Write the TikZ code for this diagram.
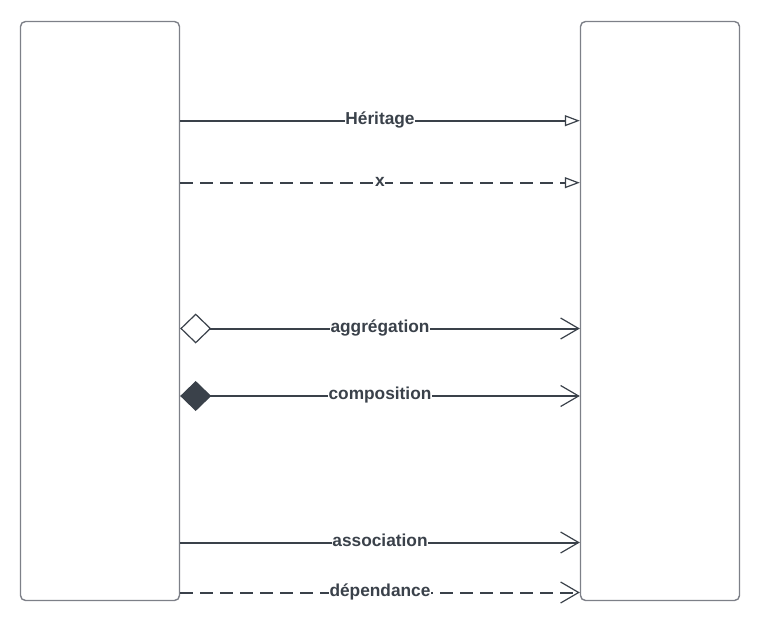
\documentclass[tikz,border=0pt]{standalone}
\usepackage{fontspec}
\setmainfont{Liberation Sans}
\usetikzlibrary{arrows.meta}
\definecolor{ink}{HTML}{3A414A}
\definecolor{frame}{HTML}{7D8088}
\tikzset{
  classbox/.style={draw=frame, line width=1.4pt, rounded corners=5pt, fill=white,
    minimum width=159pt, minimum height=579pt, inner sep=0pt},
  rel/.style={draw=ink, line width=2pt},
  dashrel/.style={rel, dash pattern=on 13pt off 7pt},
  lbl/.style={fill=white, text=ink, inner sep=0.3pt, anchor=base,
    font=\bfseries\fontsize{17.3}{19}\selectfont},
  inherit/.style={-{Triangle[length=15pt,width=11pt,fill=white,line width=1.2pt]}},
  navig/.style={-{Straight Barb[length=18pt,width=21pt,line width=1.2pt]}},
  aggr/.style={{Diamond[length=31pt,width=30pt,fill=white,line width=1.2pt]}-{Straight Barb[length=18pt,width=21pt,line width=1.2pt]}},
  compo/.style={{Diamond[length=31pt,width=30pt,fill=ink,line width=1.2pt]}-{Straight Barb[length=18pt,width=21pt,line width=1.2pt]}},
}
\begin{document}
\begin{tikzpicture}[x=1pt, y=-1pt]
\useasboundingbox (0,0) rectangle (760,620);

% the two classes
\node[classbox] (L) at (100,311) {};
\node[classbox] (R) at (660,311) {};

% heights of the relation rows
\coordinate (r1) at (380,120.7);
\coordinate (r2) at (380,182.7);
\coordinate (r3) at (380,328.5);
\coordinate (r4) at (380,396);
\coordinate (r5) at (380,542.5);
\coordinate (r6) at (380,592.5);

% relations
\draw[rel, inherit] (L.east |- r1) -- (R.west |- r1);
\draw[dashrel, inherit] (L.east |- r2) -- (R.west |- r2);
\draw[rel, aggr] (L.east |- r3) -- (R.west |- r3);
\draw[rel, compo] (L.east |- r4) -- (R.west |- r4);
\draw[rel, navig] (L.east |- r5) -- (R.west |- r5);
\draw[dashrel, navig] (L.east |- r6) -- (R.west |- r6);

% labels
\node[lbl] (t1) at ([yshift=-3.7pt]r1) {Héritage};
\node[lbl] (t2) at ([yshift=-3.7pt]r2) {x};
\node[lbl] (t3) at ([yshift=-3.7pt]r3) {aggrégation};
\node[lbl] (t4) at ([yshift=-3.7pt]r4) {composition};
\node[lbl] (t5) at ([yshift=-3.7pt]r5) {association};
\node[lbl] (t6) at ([yshift=-3.7pt]r6) {dépendance};
\end{tikzpicture}
\end{document}
